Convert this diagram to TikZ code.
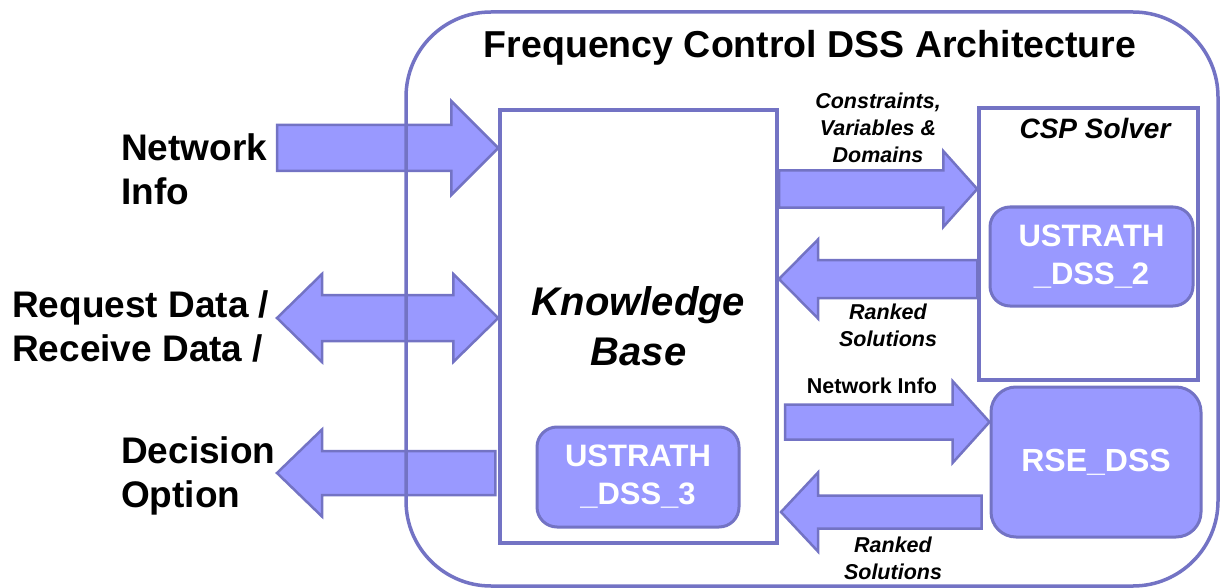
\documentclass[tikz,border=0pt]{standalone}
\usepackage{fontspec}
\setmainfont{Liberation Sans}
\usetikzlibrary{calc}
\definecolor{lav}{HTML}{9999FF}
\definecolor{lavedge}{HTML}{7373C4}
\tikzset{
  box/.style={draw=lavedge,line width=3.5pt,fill=white},
  unit/.style={draw=lavedge,line width=3pt,fill=lav,rounded corners=20pt,text=white,
    font=\fontsize{31}{38}\selectfont\bfseries,align=center},
  blk/.style={draw=lavedge,line width=2.5pt,fill=lav,line join=miter},
  biglbl/.style={font=\fontsize{37}{44}\selectfont\bfseries,align=left,inner sep=0pt},
  smalllbl/.style={font=\fontsize{21.5}{27}\selectfont\bfseries\itshape,align=center,inner sep=0pt},
}
% block arrow: tail, tip, half shaft, half head, head length (signed)
\newcommand\barrow[5]{%
  \draw[blk] let \p1=(#1), \p2=(#2) in
    (\x1,{\y1+#3pt}) -- ({\x2-(#5pt)},{\y1+#3pt}) -- ({\x2-(#5pt)},{\y1+#4pt}) -- (\x2,\y1)
    -- ({\x2-(#5pt)},{\y1-#4pt}) -- ({\x2-(#5pt)},{\y1-#3pt}) -- (\x1,{\y1-#3pt}) -- cycle;}
% double block arrow: left tip, right tip, half shaft, half head, head length
\newcommand\dbarrow[5]{%
  \draw[blk] let \p1=(#1), \p2=(#2) in
    (\x1,\y1) -- ({\x1+#5pt},{\y1+#4pt}) -- ({\x1+#5pt},{\y1+#3pt}) -- ({\x2-#5pt},{\y1+#3pt})
    -- ({\x2-#5pt},{\y1+#4pt}) -- (\x2,\y1) -- ({\x2-#5pt},{\y1-#4pt}) -- ({\x2-#5pt},{\y1-#3pt})
    -- ({\x1+#5pt},{\y1-#3pt}) -- ({\x1+#5pt},{\y1-#4pt}) -- cycle;}
\begin{document}
\begin{tikzpicture}[x=1pt,y=-1pt]
\useasboundingbox (0,0) rectangle (1220,588);
% boxes
\node[box,minimum width=277pt,minimum height=433pt,align=center,
  font=\fontsize{40}{50}\selectfont\bfseries\itshape] (kb) at (638.5,326.5) {Knowledge\\Base};
\node[unit,minimum width=202pt,minimum height=100pt] (dss3) at (638,477) {USTRATH\\\_DSS\_3};
\node[box,minimum width=219pt,minimum height=272pt] (csp) at (1088.5,244) {};
\node[font=\fontsize{28}{32}\selectfont\bfseries\itshape] (csplbl) at (1095,128) {CSP Solver};
\node[unit,minimum width=203pt,minimum height=99pt] (dss2) at (1091.5,256.5) {USTRATH\\\_DSS\_2};
\node[unit,minimum width=210pt,minimum height=150pt,rounded corners=25pt,
  font=\fontsize{32}{38}\selectfont\bfseries] (rse) at (1096,462) {RSE\_DSS};
% rows of the arrows
\coordinate (ni) at (277,148);
\coordinate (rq) at (277,318);
\coordinate (dec) at (277,473);
\coordinate (cvd) at (779,189);
\coordinate (rk1) at (779,279);
\coordinate (ni2) at (785,422);
\coordinate (rk2) at (781,512);
% arrows
\barrow{ni}{ni -| kb.west}{23}{47}{47}
\dbarrow{rq}{rq -| kb.west}{23}{44}{45}
\barrow{$(dec -| kb.west)+(-3,0)$}{dec}{22}{43.5}{-45}
\barrow{cvd}{cvd -| csp.west}{18.5}{38}{34}
\barrow{rk1 -| csp.west}{rk1}{19}{39.5}{-39}
\barrow{ni2}{ni2 -| rse.west}{17.5}{41}{37}
\barrow{$(rk2 -| rse.west)+(-8,0)$}{rk2}{16.5}{39.5}{-37}
% frame
\node[draw=lavedge,line width=3.5pt,rounded corners=85pt,minimum width=812pt,
  minimum height=574pt] (frame) at (812,299) {};
\node[font=\fontsize{37.5}{40}\selectfont\bfseries] (title) at (810,48) {Frequency Control DSS Architecture};
% labels
\node[biglbl,anchor=west] (netlbl) at (121,169) {Network\\Info};
\node[biglbl,anchor=west] (reqlbl) at (12,326) {Request Data /\\Receive Data /};
\node[biglbl,anchor=west] (declbl) at (121,476) {Decision\\Option};
\node[smalllbl] (cvdlbl) at (878,128) {Constraints,\\Variables \&\\Domains};
\node[smalllbl] (rk1lbl) at (888,325) {Ranked\\Solutions};
\node[smalllbl,font=\fontsize{21.5}{27}\selectfont\bfseries] (ni2lbl) at (872,386) {Network Info};
\node[smalllbl] (rk2lbl) at (893,558) {Ranked\\Solutions};
\end{tikzpicture}
\end{document}
